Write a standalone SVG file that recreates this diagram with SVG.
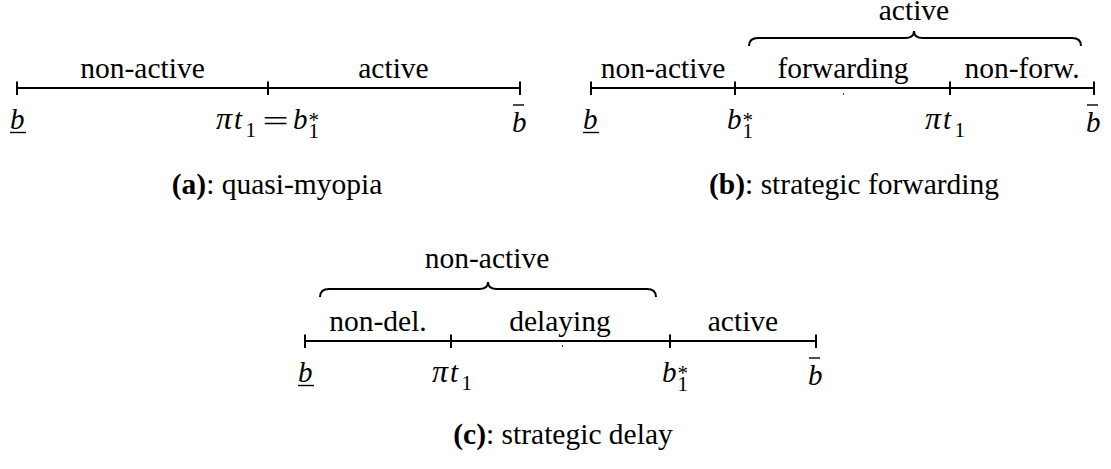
<svg xmlns="http://www.w3.org/2000/svg" width="1111" height="469" viewBox="0 0 1111 469">
<style>
.ax{stroke:#000;stroke-width:2;fill:none}
.br{stroke:#000;stroke-width:2;fill:none}
.deco{stroke:#000;stroke-width:1.4}
text{font-family:'Liberation Serif','Times New Roman',serif;fill:#000}
.t{font-size:29.5px;text-anchor:middle}
.m{font-size:29px;font-style:italic}
.pi{font-size:32px;font-style:italic}
.n{font-size:29px}
.s{font-size:21px;font-style:normal}
.cap{font-size:29.5px;text-anchor:middle}
.bf{font-weight:bold}
</style>
<rect width="1111" height="469" fill="#fff"/>
<g id="connectors">
  <path class="ax" d="M17,88 H520 M17,81.5 V95 M268,81.5 V95 M520,81.5 V95"/>
  <path class="ax" d="M591,88 H1094 M591,81.5 V95 M735,81.5 V95 M950,81.5 V95 M1094,81.5 V95"/>
  <path class="br" d="M749,46 Q749,38 758,38 L905,38 Q914,38 914,31 Q914,38 923,38 L1072,38 Q1081,38 1081,46"/>
  <path class="ax" d="M305,341 H816 M305,334.5 V348 M451,334.5 V348 M670,334.5 V348 M816,334.5 V348"/>
  <path class="br" d="M320,297 Q320,289 329,289 L479,289 Q488,289 488,282 Q488,289 497,289 L647,289 Q656,289 656,297"/>
  <rect x="843" y="93" width="1" height="2" fill="#444"/>
  <rect x="562" y="345" width="1" height="2" fill="#444"/>
</g>
<g id="panel-a">
  <text class="t" x="142.5" y="77.7">non-active</text>
  <text class="t" x="393.5" y="77.7">active</text>
  <text class="m" x="10" y="129">b</text>
  <line class="deco" x1="10" y1="132.5" x2="26" y2="132.5"/>
  <text class="pi" x="216" y="129">π</text>
  <text class="m" x="234" y="129">t</text>
  <text class="s" x="245.5" y="137">1</text>
  <text class="n" text-anchor="middle" transform="translate(275.5,131) scale(1.6,1)">=</text>
  <text class="m" x="293" y="129">b</text>
  <text class="s" x="308.5" y="127">*</text>
  <text class="s" x="308.5" y="137.5">1</text>
  <text class="m" x="512" y="132">b</text>
  <line class="deco" x1="513" y1="105" x2="524" y2="105"/>
  <text class="cap" x="277" y="193.5"><tspan class="bf">(a)</tspan>: quasi-myopia</text>
</g>
<g id="panel-b">
  <text class="t" x="914" y="20">active</text>
  <text class="t" x="663" y="77.7">non-active</text>
  <text class="t" x="843" y="77.7">forwarding</text>
  <text class="t" x="1022" y="77.7">non-forw.</text>
  <text class="m" x="583" y="129">b</text>
  <line class="deco" x1="583" y1="132.5" x2="599" y2="132.5"/>
  <text class="m" x="727" y="129">b</text>
  <text class="s" x="742.5" y="127">*</text>
  <text class="s" x="742.5" y="137.5">1</text>
  <text class="pi" x="925" y="129">π</text>
  <text class="m" x="943" y="129">t</text>
  <text class="s" x="954.5" y="137">1</text>
  <text class="m" x="1086" y="132">b</text>
  <line class="deco" x1="1087" y1="105" x2="1098" y2="105"/>
  <text class="cap" x="854" y="193.5"><tspan class="bf">(b)</tspan>: strategic forwarding</text>
</g>
<g id="panel-c">
  <text class="t" x="487" y="268">non-active</text>
  <text class="t" x="378" y="330.5">non-del.</text>
  <text class="t" x="560" y="330.5">delaying</text>
  <text class="t" x="743" y="330.5">active</text>
  <text class="m" x="298" y="382">b</text>
  <line class="deco" x1="298" y1="385.5" x2="314" y2="385.5"/>
  <text class="pi" x="432" y="382">π</text>
  <text class="m" x="450" y="382">t</text>
  <text class="s" x="461.5" y="390">1</text>
  <text class="m" x="662" y="382">b</text>
  <text class="s" x="677.5" y="380">*</text>
  <text class="s" x="677.5" y="390.5">1</text>
  <text class="m" x="808" y="385">b</text>
  <line class="deco" x1="809" y1="358" x2="820" y2="358"/>
  <text class="cap" x="563" y="444"><tspan class="bf">(c)</tspan>: strategic delay</text>
</g>
</svg>
